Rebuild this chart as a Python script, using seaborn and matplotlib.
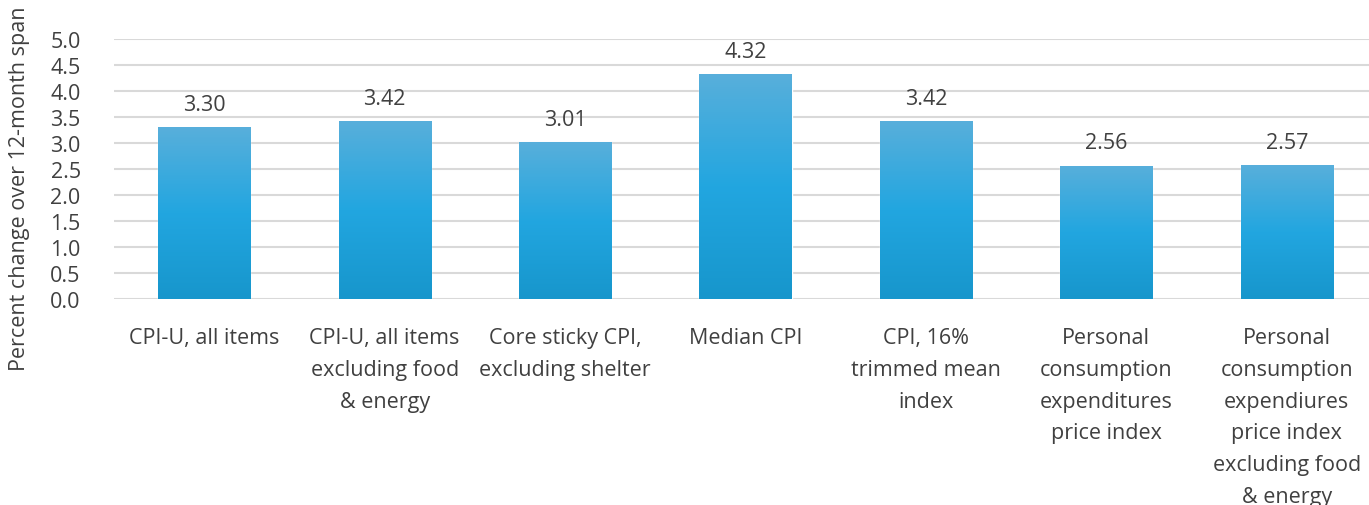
import matplotlib
matplotlib.use("Agg")
import matplotlib.pyplot as plt
import seaborn as sns
import numpy as np
import pandas as pd
from matplotlib.colors import LinearSegmentedColormap

categories = [
    "CPI-U, all items",
    "CPI-U, all items\nexcluding food\n& energy",
    "Core sticky CPI,\nexcluding shelter",
    "Median CPI",
    "CPI, 16%\ntrimmed mean\nindex",
    "Personal\nconsumption\nexpenditures\nprice index",
    "Personal\nconsumption\nexpendiures\nprice index\nexcluding food\n& energy",
]
values = [3.30, 3.42, 3.01, 4.32, 3.42, 2.56, 2.57]
yticks = [0.0, 0.5, 1.0, 1.5, 2.0, 2.5, 3.0, 3.5, 4.0, 4.5, 5.0]
ylabel = "Percent change over 12-month span"

sns.set_theme(style="white")
plt.rcParams['font.family'] = ['Open Sans', 'DejaVu Sans']

W, H = 1369, 506
fig = plt.figure(figsize=(W / 100, H / 100), dpi=100)
left, right, top, bottom = 114, 1377, 40, 300
ax = fig.add_axes([left / W, 1 - bottom / H, (right - left) / W, (bottom - top) / H])

df = pd.DataFrame({"cat": categories, "val": values})
sns.barplot(data=df, x="cat", y="val", ax=ax, color="#22A5DF", width=0.51, saturation=1)

txt = "#404040"
ax.set_ylim(0, 5)
ax.set_yticks(yticks)
ax.set_yticklabels([f"{t:.1f}" for t in yticks], fontsize=15.5, color=txt)
ax.tick_params(axis="y", length=0, pad=24)
ax.tick_params(axis="x", length=0, pad=20)
ax.set_xticklabels(categories, fontsize=15.5, color=txt, linespacing=1.68, va="top")
ax.set_xlabel("")
ax.set_ylabel("")
fig.text(20 / W, 1 - 189 / H, ylabel, rotation=90, ha="center", va="center",
         fontsize=15.5, color=txt)
for s in ax.spines.values():
    s.set_visible(False)
ax.grid(axis="y", color="#D9D9D9", linewidth=1.5)
ax.set_axisbelow(True)

# gradient fill
cmap = LinearSegmentedColormap.from_list("g", ["#1796CC", "#22A6E0", "#58AFDB"])
grad = np.linspace(0, 1, 256).reshape(-1, 1)
for p in list(ax.patches):
    x0, y0 = p.get_x(), p.get_y()
    w, h = p.get_width(), p.get_height()
    im = ax.imshow(grad, extent=[x0, x0 + w, y0, y0 + h], origin="lower",
                   cmap=cmap, aspect="auto", zorder=p.get_zorder() + 0.1)
    im.set_clip_path(p)
    ax.annotate(f"{h:.2f}", (x0 + w / 2, h), xytext=(0, 9), textcoords="offset points",
                ha="center", va="bottom", fontsize=15.5, color=txt)
ax.set_xlim(-0.5, len(categories) - 0.5)
ax.set_ylim(0, 5)

fig.savefig("out.png", dpi=100)
